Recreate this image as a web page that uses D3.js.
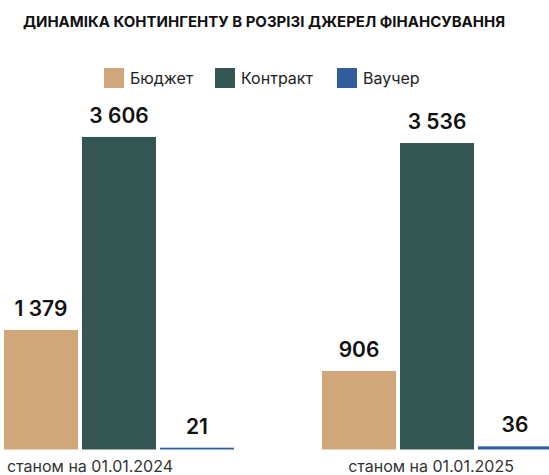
<!DOCTYPE html>
<html>
<head>
<meta charset="utf-8">
<script src="https://cdn.jsdelivr.net/npm/d3@7"></script>
<style>
  body { margin: 0; background: #fff; }
  svg { display: block; font-family: Inter, "Noto Sans", sans-serif; }
</style>
</head>
<body>
<svg id="chart" width="549" height="475"></svg>
<script>
var title = "ДИНАМІКА КОНТИНГЕНТУ В РОЗРІЗІ ДЖЕРЕЛ ФІНАНСУВАННЯ";
var periods = ["станом на 01.01.2024", "станом на 01.01.2025"];
var series = ["Бюджет", "Контракт", "Ваучер"];
var budget = [1379, 906];
var contract = [3606, 3536];
var voucher = [21, 36];
var colors = ["#cfa77a", "#345653", "#2f5e9b"];

var svg = d3.select("#chart");
var values = [budget, contract, voucher];

var baseY = 449.5;
var x0 = d3.scaleBand().domain(periods).range([4, 552]).paddingInner(88 / 318);
var x1 = d3.scaleBand().domain(series).range([0, x0.bandwidth()]).paddingInner(4 / 78);
var y = d3.scaleLinear().domain([0, 4000]).range([baseY, baseY - 346.7]);
var color = d3.scaleOrdinal().domain(series).range(colors);
var fmt = function(v) { return d3.format(",")(v).replace(/,/g, " "); };

svg.append("text")
    .attr("x", 264).attr("y", 27)
    .attr("text-anchor", "middle")
    .attr("font-size", "15px").attr("font-weight", 700)
    .attr("fill", "#111")
    .text(title);

// legend
var legendX = [104, 215, 337];
var lg = svg.append("g").selectAll("g").data(series).join("g")
    .attr("transform", function(d, i) { return "translate(" + legendX[i] + ",68)"; });
lg.append("rect").attr("width", 20).attr("height", 20).attr("fill", function(d) { return color(d); });
lg.append("text").attr("x", 26).attr("y", 16)
    .attr("font-size", "16px").attr("fill", "#222")
    .text(function(d) { return d; });

var groups = svg.append("g").selectAll("g").data(periods).join("g")
    .attr("transform", function(d) { return "translate(" + x0(d) + ",0)"; });

groups.each(function(p, pi) {
    var g = d3.select(this);
    var rows = series.map(function(s, si) { return {s: s, v: values[si][pi]}; });
    g.selectAll("rect").data(rows).join("rect")
        .attr("x", function(d) { return x1(d.s); })
        .attr("y", function(d) { return y(d.v); })
        .attr("width", x1.bandwidth())
        .attr("height", function(d) { return y(0) - y(d.v); })
        .attr("fill", function(d) { return color(d.s); });
    g.selectAll("text.val").data(rows).join("text")
        .attr("class", "val")
        .attr("x", function(d) { return x1(d.s) + x1.bandwidth() / 2; })
        .attr("y", function(d) { return Math.min(y(d.v) - 14, baseY - 7.5); })
        .attr("text-anchor", "middle")
        .attr("font-size", "21px").attr("font-weight", 600)
        .attr("fill", "#111")
        .text(function(d) { return fmt(d.v); });
});

var labelShift = [-29, -6];
svg.append("g").selectAll("text").data(periods).join("text")
    .attr("x", function(d, i) { return x0(d) + x0.bandwidth() / 2 + labelShift[i]; })
    .attr("y", 472)
    .attr("text-anchor", "middle")
    .attr("font-size", "16px").attr("fill", "#333")
    .text(function(d) { return d; });
</script>
</body>
</html>
